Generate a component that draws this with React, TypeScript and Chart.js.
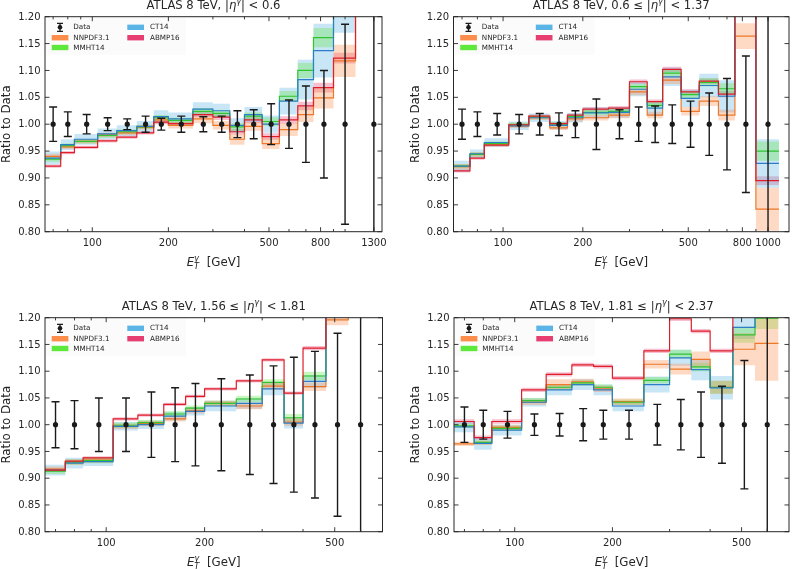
import React, { useEffect, useRef } from "react";
import { Chart, registerables } from "chart.js";
Chart.register(...registerables);

const FONT = '"DejaVu Sans", sans-serif';

// ---------- bins ----------
const EDGES_ETA1 = [65, 75, 85, 105, 125, 150, 175, 200, 250, 300, 350, 400, 470, 550, 650, 750, 900, 1100, 1500];
const CENTERS_ETA1 = [70, 80, 95, 115, 137.5, 162.5, 187.5, 225, 275, 325, 375, 435, 510, 600, 700, 825, 1000, 1300];
const EDGES_ETA2 = [65, 75, 85, 105, 125, 150, 175, 200, 250, 300, 350, 400, 470, 550, 650, 750, 900, 1100];
const CENTERS_ETA2 = [70, 80, 95, 115, 137.5, 162.5, 187.5, 225, 275, 325, 375, 435, 510, 600, 700, 825, 1000];
const EDGES_ETA34 = [65, 75, 85, 105, 125, 150, 175, 200, 250, 300, 350, 400, 470, 550, 650];
const CENTERS_ETA34 = [70, 80, 95, 115, 137.5, 162.5, 187.5, 225, 275, 325, 375, 435, 510, 600];

// ---------- panel 1 : |eta| < 0.6 ----------
const P1_DATA = [1, 1, 1, 1, 1, 1, 1, 1, 1, 1, 1, 1, 1, 1, 1, 1, 1, 1];
const P1_DATA_ERR = [0.032, 0.023, 0.018, 0.012, 0.010, 0.015, 0.011, 0.015, 0.014, 0.015, 0.025, 0.027, 0.038, 0.045, 0.071, 0.100, 0.186, 0.35];
const P1_NNPDF = [0.940, 0.958, 0.968, 0.980, 0.984, 0.994, 1.008, 0.998, 1.010, 0.998, 0.972, 0.996, 0.964, 0.990, 1.018, 1.049, 1.118, 1.30];
const P1_NNPDF_ERR = [0.005, 0.004, 0.004, 0.004, 0.004, 0.004, 0.006, 0.006, 0.008, 0.008, 0.010, 0.008, 0.010, 0.012, 0.014, 0.020, 0.030, 0.040];
const P1_MMHT = [0.935, 0.960, 0.968, 0.979, 0.986, 0.995, 1.012, 1.007, 1.024, 1.020, 0.995, 1.015, 1.005, 1.052, 1.100, 1.161, 1.25, 1.35];
const P1_MMHT_ERR = [0.005, 0.004, 0.004, 0.004, 0.004, 0.004, 0.005, 0.005, 0.006, 0.006, 0.007, 0.007, 0.008, 0.010, 0.014, 0.018, 0.025, 0.030];
const P1_CT14 = [0.937, 0.962, 0.972, 0.982, 0.988, 0.996, 1.014, 1.010, 1.028, 1.025, 0.998, 1.018, 1.000, 1.043, 1.083, 1.137, 1.22, 1.35];
const P1_CT14_ERR = [0.012, 0.010, 0.010, 0.010, 0.010, 0.010, 0.012, 0.012, 0.013, 0.013, 0.013, 0.014, 0.016, 0.025, 0.037, 0.050, 0.050, 0.060];
const P1_ABMP = [0.922, 0.947, 0.957, 0.969, 0.976, 0.984, 1.004, 1.001, 1.018, 1.013, 0.986, 1.008, 0.977, 1.008, 1.034, 1.068, 1.123, 1.30];
const P1_ABMP_ERR = [0.003, 0.003, 0.003, 0.003, 0.003, 0.003, 0.004, 0.004, 0.005, 0.005, 0.005, 0.006, 0.006, 0.007, 0.008, 0.009, 0.010, 0.012];
const P1_XLABELS = [100, 200, 500, 800, 1300];

// ---------- panel 2 : 0.6 <= |eta| < 1.37 ----------
const P2_DATA = [1, 1, 1, 1, 1, 1, 1, 1, 1, 1, 1, 1, 1, 1, 1, 1, 1];
const P2_DATA_ERR = [0.028, 0.023, 0.020, 0.018, 0.020, 0.021, 0.025, 0.047, 0.027, 0.032, 0.034, 0.036, 0.043, 0.058, 0.085, 0.127, 0.35];
const P2_NNPDF = [0.921, 0.944, 0.963, 0.997, 1.012, 0.993, 1.010, 1.012, 1.017, 1.060, 1.017, 1.082, 1.024, 1.043, 1.017, 1.164, 0.842];
const P2_NNPDF_ERR = [0.005, 0.004, 0.004, 0.004, 0.004, 0.004, 0.005, 0.005, 0.006, 0.006, 0.006, 0.007, 0.008, 0.009, 0.010, 0.024, 0.040];
const P2_MMHT = [0.922, 0.944, 0.964, 0.999, 1.013, 1.000, 1.014, 1.022, 1.024, 1.070, 1.035, 1.095, 1.055, 1.078, 1.066, 1.30, 0.950];
const P2_MMHT_ERR = [0.004, 0.004, 0.004, 0.004, 0.004, 0.004, 0.004, 0.005, 0.005, 0.005, 0.006, 0.006, 0.007, 0.008, 0.010, 0.015, 0.018];
const P2_CT14 = [0.922, 0.945, 0.966, 0.997, 1.012, 0.998, 1.012, 1.021, 1.022, 1.065, 1.030, 1.088, 1.048, 1.072, 1.052, 1.30, 0.927];
const P2_CT14_ERR = [0.010, 0.008, 0.008, 0.008, 0.008, 0.008, 0.009, 0.010, 0.010, 0.013, 0.013, 0.017, 0.016, 0.022, 0.030, 0.040, 0.045];
const P2_ABMP = [0.913, 0.937, 0.961, 0.999, 1.015, 1.001, 1.017, 1.028, 1.030, 1.079, 1.042, 1.102, 1.060, 1.080, 1.056, 1.35, 0.895];
const P2_ABMP_ERR = [0.003, 0.003, 0.003, 0.003, 0.003, 0.003, 0.003, 0.004, 0.004, 0.004, 0.004, 0.005, 0.005, 0.005, 0.006, 0.010, 0.008];
const P2_XLABELS = [100, 200, 500, 800, 1000];

// ---------- panel 3 : 1.56 <= |eta| < 1.81 ----------
const P3_DATA = [1, 1, 1, 1, 1, 1, 1, 1, 1, 1, 1, 1, 1, 1];
const P3_DATA_ERR = [0.043, 0.045, 0.050, 0.050, 0.061, 0.069, 0.077, 0.086, 0.093, 0.110, 0.126, 0.137, 0.171, 0.35];
const P3_NNPDF = [0.917, 0.930, 0.934, 0.997, 1.002, 1.011, 1.026, 1.040, 1.035, 1.072, 1.005, 1.071, 1.196, 1.30];
const P3_NNPDF_ERR = [0.005, 0.005, 0.005, 0.005, 0.005, 0.005, 0.005, 0.005, 0.006, 0.006, 0.007, 0.008, 0.010, 0.015];
const P3_MMHT = [0.913, 0.930, 0.933, 0.999, 1.004, 1.020, 1.031, 1.040, 1.048, 1.079, 1.013, 1.091, 1.25, 1.35];
const P3_MMHT_ERR = [0.005, 0.005, 0.005, 0.005, 0.005, 0.005, 0.005, 0.005, 0.006, 0.006, 0.007, 0.008, 0.010, 0.015];
const P3_CT14 = [0.915, 0.928, 0.931, 0.997, 1.000, 1.016, 1.025, 1.035, 1.040, 1.067, 1.003, 1.081, 1.25, 1.35];
const P3_CT14_ERR = [0.010, 0.010, 0.008, 0.008, 0.008, 0.008, 0.008, 0.010, 0.010, 0.012, 0.010, 0.012, 0.015, 0.020];
const P3_ABMP = [0.915, 0.932, 0.938, 1.011, 1.018, 1.038, 1.053, 1.067, 1.082, 1.121, 1.059, 1.143, 1.30, 1.40];
const P3_ABMP_ERR = [0.003, 0.003, 0.003, 0.003, 0.003, 0.003, 0.003, 0.003, 0.003, 0.003, 0.003, 0.004, 0.005, 0.006];
const P3_XLABELS = [100, 200, 500];

// ---------- panel 4 : 1.81 <= |eta| < 2.37 ----------
const P4_DATA = [1, 1, 1, 1, 1, 1, 1, 1, 1, 1, 1, 1, 1, 1];
const P4_DATA_ERR = [0.033, 0.027, 0.025, 0.020, 0.021, 0.030, 0.027, 0.027, 0.038, 0.047, 0.061, 0.072, 0.120, 0.35];
const P4_NNPDF = [0.964, 0.966, 0.995, 1.042, 1.075, 1.080, 1.067, 1.043, 1.113, 1.104, 1.122, 1.070, 1.141, 1.152];
const P4_NNPDF_ERR = [0.004, 0.004, 0.005, 0.005, 0.010, 0.006, 0.006, 0.006, 0.008, 0.010, 0.015, 0.012, 0.030, 0.070];
const P4_MMHT = [0.998, 0.967, 0.993, 1.045, 1.070, 1.078, 1.070, 1.042, 1.083, 1.132, 1.108, 1.070, 1.168, 1.199];
const P4_MMHT_ERR = [0.004, 0.004, 0.005, 0.005, 0.005, 0.005, 0.005, 0.005, 0.006, 0.008, 0.008, 0.012, 0.015, 0.020];
const P4_CT14 = [0.996, 0.965, 0.990, 1.042, 1.065, 1.075, 1.065, 1.035, 1.075, 1.125, 1.103, 1.069, 1.182, 1.30];
const P4_CT14_ERR = [0.010, 0.012, 0.010, 0.008, 0.010, 0.010, 0.010, 0.010, 0.015, 0.015, 0.020, 0.022, 0.022, 0.030];
const P4_ABMP = [1.006, 0.976, 1.006, 1.065, 1.094, 1.112, 1.109, 1.087, 1.138, 1.198, 1.175, 1.138, 1.30, 1.35];
const P4_ABMP_ERR = [0.004, 0.004, 0.004, 0.004, 0.004, 0.004, 0.004, 0.004, 0.004, 0.004, 0.004, 0.004, 0.005, 0.006];
const P4_XLABELS = [100, 200, 500];

const Y_TICKS = [0.8, 0.85, 0.9, 0.95, 1.0, 1.05, 1.1, 1.15, 1.2];
const X_MINOR = [70, 80, 90, 100, 200, 300, 400, 500, 600, 700, 800, 900, 1000];

const PDF_NAMES = ["NNPDF3.1", "MMHT14", "CT14", "ABMP16"];
const LINE_COL = ["rgb(238,120,40)", "rgb(50,195,50)", "rgb(45,125,200)", "rgb(222,30,40)"];
const SWATCH_COL = ["rgb(252,141,75)", "rgb(95,232,60)", "rgb(90,180,230)", "rgb(230,62,112)"];
const BAND_COL = ["rgba(252,141,75,0.33)", "rgba(95,232,60,0.33)", "rgba(90,180,230,0.33)", "rgba(230,62,112,0.33)"];

type Seg = { t: string; it?: boolean; sup?: boolean; sub?: boolean; stack?: boolean };

const titleSegs = (lo: string | null, hi: string): Seg[] => [
  { t: "ATLAS 8 TeV, " + (lo ? lo + " \u2264 " : "") + "|" },
  { t: "\u03b7", it: true },
  { t: "\u03b3", it: true, sup: true },
  { t: "| < " + hi },
];

const PANELS = [
  {
    title: titleSegs(null, "0.6"), region: [0, 0, 396, 284], plot: [45, 16.7, 382, 231.7], xmin: 65, xmax: 1400,
    edges: EDGES_ETA1, centers: CENTERS_ETA1, data: P1_DATA, dataErr: P1_DATA_ERR,
    pdf: [P1_NNPDF, P1_MMHT, P1_CT14, P1_ABMP], pdfErr: [P1_NNPDF_ERR, P1_MMHT_ERR, P1_CT14_ERR, P1_ABMP_ERR], xLabels: P1_XLABELS,
  },
  {
    title: titleSegs("0.6", "1.37"), region: [396, 0, 397, 284], plot: [453.5, 16.7, 791.7, 231.7], xmin: 65, xmax: 1200,
    edges: EDGES_ETA2, centers: CENTERS_ETA2, data: P2_DATA, dataErr: P2_DATA_ERR,
    pdf: [P2_NNPDF, P2_MMHT, P2_CT14, P2_ABMP], pdfErr: [P2_NNPDF_ERR, P2_MMHT_ERR, P2_CT14_ERR, P2_ABMP_ERR], xLabels: P2_XLABELS,
  },
  {
    title: titleSegs("1.56", "1.81"), region: [0, 284, 396, 285], plot: [45, 317.7, 382.5, 531.7], xmin: 65, xmax: 700,
    edges: EDGES_ETA34, centers: CENTERS_ETA34, data: P3_DATA, dataErr: P3_DATA_ERR,
    pdf: [P3_NNPDF, P3_MMHT, P3_CT14, P3_ABMP], pdfErr: [P3_NNPDF_ERR, P3_MMHT_ERR, P3_CT14_ERR, P3_ABMP_ERR], xLabels: P3_XLABELS,
  },
  {
    title: titleSegs("1.81", "2.37"), region: [396, 284, 397, 285], plot: [454, 317.7, 791.7, 531.7], xmin: 65, xmax: 700,
    edges: EDGES_ETA34, centers: CENTERS_ETA34, data: P4_DATA, dataErr: P4_DATA_ERR,
    pdf: [P4_NNPDF, P4_MMHT, P4_CT14, P4_ABMP], pdfErr: [P4_NNPDF_ERR, P4_MMHT_ERR, P4_CT14_ERR, P4_ABMP_ERR], xLabels: P4_XLABELS,
  },
];

function stepPts(edges: number[], vals: number[]) {
  const pts = vals.map((v, i) => ({ x: edges[i], y: v }));
  pts.push({ x: edges[vals.length], y: vals[vals.length - 1] });
  return pts;
}

function segFont(s: Seg, size: number) {
  const sz = s.sup || s.sub ? size * 0.7 : size;
  return `${s.it ? "italic " : ""}${sz}px ${FONT}`;
}

function drawRich(ctx: CanvasRenderingContext2D, segs: Seg[], cx: number, y: number, size: number) {
  const pos: number[] = [];
  let cur = 0, pend = 0;
  for (const s of segs) {
    ctx.font = segFont(s, size);
    const w = ctx.measureText(s.t).width;
    pos.push(cur);
    if (s.stack) pend = Math.max(pend, w);
    else { cur += Math.max(w, pend); pend = 0; }
  }
  const x0 = cx - cur / 2;
  ctx.textAlign = "left";
  ctx.textBaseline = "alphabetic";
  segs.forEach((s, i) => {
    ctx.font = segFont(s, size);
    let dy = 0;
    if (s.sup) dy = -size * 0.42;
    if (s.sub) dy = size * 0.22;
    ctx.fillText(s.t, x0 + pos[i], y + dy);
  });
}

function drawLegend(ctx: CanvasRenderingContext2D, L: number, T: number) {
  ctx.save();
  ctx.fillStyle = "rgba(250,250,250,0.85)";
  ctx.fillRect(L + 1, T + 1, 140, 37);
  const fs = 7.2;
  ctx.font = `${fs}px ${FONT}`;
  ctx.textBaseline = "middle";
  ctx.textAlign = "left";
  const rows = [T + 10.6, T + 21.0, T + 30.8];
  // data marker
  const dx = L + 15, dy = rows[0];
  ctx.strokeStyle = "#1a1a1a";
  ctx.lineWidth = 1.3;
  ctx.beginPath();
  ctx.moveTo(dx, dy - 4); ctx.lineTo(dx, dy + 4);
  ctx.moveTo(dx - 3, dy - 4); ctx.lineTo(dx + 3, dy - 4);
  ctx.moveTo(dx - 3, dy + 4); ctx.lineTo(dx + 3, dy + 4);
  ctx.stroke();
  ctx.fillStyle = "#1a1a1a";
  ctx.beginPath(); ctx.arc(dx, dy, 2.3, 0, Math.PI * 2); ctx.fill();
  ctx.fillStyle = "#262626";
  ctx.fillText("Data", L + 28.3, dy + 0.3);
  const slots = [
    [L + 6.7, rows[1], L + 28.3],
    [L + 6.7, rows[2], L + 28.3],
    [L + 82.3, rows[0], L + 105],
    [L + 82.3, rows[1], L + 105],
  ];
  PDF_NAMES.forEach((n, k) => {
    const [sx, sy, tx] = slots[k];
    ctx.fillStyle = SWATCH_COL[k];
    ctx.fillRect(sx, sy - 2.7, 16.7, 5.4);
    ctx.fillStyle = "#262626";
    ctx.fillText(n, tx, sy + 0.3);
  });
  ctx.restore();
}

function makePlugins(p: any) {
  const errPlugin = {
    id: "errbars",
    afterDatasetsDraw(chart: any) {
      const { ctx, chartArea: ca } = chart;
      const xs = chart.scales.x, ys = chart.scales.y;
      ctx.save();
      ctx.beginPath();
      ctx.rect(ca.left, ca.top, ca.right - ca.left, ca.bottom - ca.top);
      ctx.clip();
      ctx.strokeStyle = "#1a1a1a";
      ctx.lineWidth = 1.4;
      p.centers.forEach((c: number, i: number) => {
        const px = xs.getPixelForValue(c);
        const v = p.data[i], e = p.dataErr[i];
        const t = ys.getPixelForValue(v + e), b = ys.getPixelForValue(v - e);
        ctx.beginPath();
        ctx.moveTo(px, t); ctx.lineTo(px, b);
        ctx.moveTo(px - 4, t); ctx.lineTo(px + 4, t);
        ctx.moveTo(px - 4, b); ctx.lineTo(px + 4, b);
        ctx.stroke();
      });
      ctx.restore();
    },
  };
  const axesPlugin = {
    id: "axesDraw",
    afterDraw(chart: any) {
      const { ctx, chartArea: ca } = chart;
      const xs = chart.scales.x, ys = chart.scales.y;
      ctx.save();
      drawLegend(ctx, ca.left, ca.top);
      ctx.strokeStyle = "#262626";
      ctx.lineWidth = 1;
      ctx.strokeRect(ca.left, ca.top, ca.right - ca.left, ca.bottom - ca.top);
      ctx.fillStyle = "#262626";
      // y ticks
      ctx.font = `10px ${FONT}`;
      ctx.textAlign = "right";
      ctx.textBaseline = "middle";
      ctx.lineWidth = 0.9;
      for (const v of Y_TICKS) {
        const py = ys.getPixelForValue(v);
        ctx.beginPath();
        ctx.moveTo(ca.left, py); ctx.lineTo(ca.left + 4.5, py);
        ctx.moveTo(ca.right, py); ctx.lineTo(ca.right - 4.5, py);
        ctx.stroke();
        ctx.fillText(v.toFixed(2), ca.left - 4.5, py + 0.5);
      }
      // x ticks
      for (const v of X_MINOR) {
        if (v <= p.xmin || v >= p.xmax || p.xLabels.includes(v)) continue;
        const px = xs.getPixelForValue(v);
        ctx.beginPath();
        ctx.moveTo(px, ca.bottom); ctx.lineTo(px, ca.bottom - 2.7);
        ctx.moveTo(px, ca.top); ctx.lineTo(px, ca.top + 2.7);
        ctx.stroke();
      }
      ctx.textAlign = "center";
      ctx.textBaseline = "alphabetic";
      for (const v of p.xLabels) {
        const px = xs.getPixelForValue(v);
        ctx.beginPath();
        ctx.moveTo(px, ca.bottom); ctx.lineTo(px, ca.bottom - 4.5);
        ctx.moveTo(px, ca.top); ctx.lineTo(px, ca.top + 4.5);
        ctx.stroke();
        ctx.fillText(String(v), px, ca.bottom + 14.3);
      }
      const cx = (ca.left + ca.right) / 2;
      // title
      drawRich(ctx, p.title, cx, ca.top - 7.5, 11.6);
      // x label
      drawRich(ctx, [
        { t: "E", it: true },
        { t: "T", it: true, sub: true, stack: true },
        { t: "\u03b3", it: true, sup: true },
        { t: "  [GeV]" },
      ], cx, ca.bottom + 34.5, 11.8);
      // y label
      ctx.save();
      ctx.translate(ca.left - 35, (ca.top + ca.bottom) / 2);
      ctx.rotate(-Math.PI / 2);
      ctx.font = `11.8px ${FONT}`;
      ctx.textAlign = "center";
      ctx.textBaseline = "alphabetic";
      ctx.fillText("Ratio to Data", 0, 0);
      ctx.restore();
      ctx.restore();
    },
  };
  return [errPlugin, axesPlugin];
}

function PanelChart({ p }: { p: any }) {
  const ref = useRef<HTMLCanvasElement | null>(null);
  useEffect(() => {
    if (!ref.current) return;
    const [rx, ry, rw, rh] = p.region;
    const [pl, pt, pr, pb] = p.plot;
    const datasets: any[] = [];
    datasets.push({
      label: "Data",
      data: p.centers.map((c: number, i: number) => ({ x: c, y: p.data[i] })),
      showLine: false, pointRadius: 2.6, pointBackgroundColor: "#1a1a1a", pointBorderWidth: 0,
      borderColor: "#1a1a1a", order: 0,
    });
    // lines: ABMP on top, then CT14, MMHT, NNPDF
    [3, 2, 1, 0].forEach((k, j) => {
      datasets.push({
        label: PDF_NAMES[k],
        data: stepPts(p.edges, p.pdf[k]),
        stepped: "before", borderColor: LINE_COL[k], borderWidth: 1.2,
        pointRadius: 0, fill: false, order: 1 + j,
      });
    });
    [0, 1, 2, 3].forEach((k) => {
      const up = p.pdf[k].map((v: number, i: number) => v + p.pdfErr[k][i]);
      const lo = p.pdf[k].map((v: number, i: number) => v - p.pdfErr[k][i]);
      const upIdx = datasets.length;
      datasets.push({
        label: PDF_NAMES[k] + " up", data: stepPts(p.edges, up), stepped: "before",
        borderWidth: 0, borderColor: "rgba(0,0,0,0)", pointRadius: 0, fill: false, order: 10 + k,
      });
      datasets.push({
        label: PDF_NAMES[k] + " lo", data: stepPts(p.edges, lo), stepped: "before",
        borderWidth: 0, borderColor: "rgba(0,0,0,0)", pointRadius: 0,
        fill: { target: upIdx }, backgroundColor: BAND_COL[k], order: 10 + k,
      });
    });
    const chart = new Chart(ref.current, {
      type: "line",
      data: { datasets },
      options: {
        responsive: false, maintainAspectRatio: false, animation: false, devicePixelRatio: 1,
        layout: { padding: { left: pl - rx, top: pt - ry, right: rx + rw - pr, bottom: ry + rh - pb } },
        plugins: { legend: { display: false }, tooltip: { enabled: false }, title: { display: false } },
        scales: {
          x: { type: "logarithmic", min: p.xmin, max: p.xmax, display: false },
          y: { type: "linear", min: 0.8, max: 1.2, display: false },
        },
      },
      plugins: makePlugins(p),
    } as any);
    return () => chart.destroy();
  }, [p]);
  const [rx, ry, rw, rh] = p.region;
  return (
    <canvas ref={ref} width={rw} height={rh}
      style={{ position: "absolute", left: rx, top: ry, width: rw, height: rh }} />
  );
}

export default function App() {
  return (
    <div style={{ position: "absolute", left: 0, top: 0, width: 793, height: 569, background: "#fff" }}>
      {PANELS.map((p, i) => <PanelChart key={i} p={p} />)}
    </div>
  );
}
